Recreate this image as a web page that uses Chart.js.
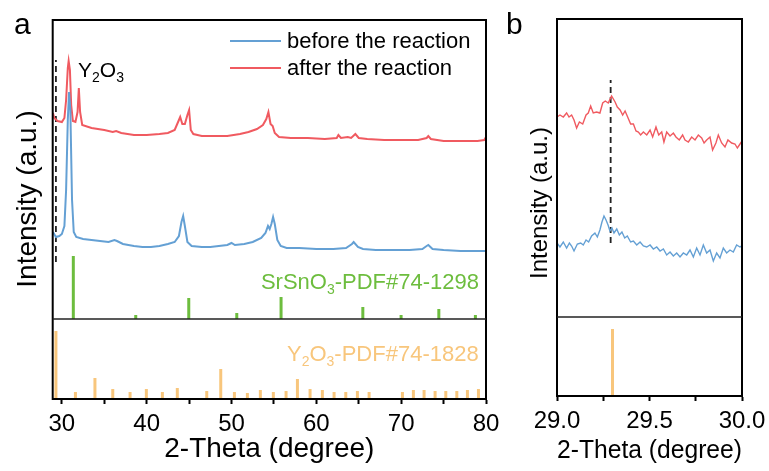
<!DOCTYPE html>
<html>
<head>
<meta charset="utf-8">
<script src="https://cdn.jsdelivr.net/npm/chart.js@4.4.1/dist/chart.umd.min.js"></script>
<style>
  body { margin: 0; background: #fff; width: 769px; height: 471px; overflow: hidden; position: relative; }
  canvas { position: absolute; top: 0; }
  #chartA { left: 0; }
  #chartB { left: 500px; }
</style>
</head>
<body>
<canvas id="chartA" width="500" height="471"></canvas>
<canvas id="chartB" width="269" height="471"></canvas>
<script>
// ---- data (2-theta in degrees, intensity in arbitrary units) ----
var seriesNames = ["before the reaction", "after the reaction"];

var beforeA = [[28.95,87],[29.3,82],[29.7,83],[30.0,85],[30.3,93],[30.5,129],[30.7,199],[30.85,227],[31.0,209],[31.2,119],[31.4,87],[31.7,82],
  [32.5,80],[33.5,79],[34.5,78],[35.5,77],[36.2,79],[36.5,78],[37.2,75],[38.5,73],[39.5,72],[40.5,72],[41.5,73],[42.5,75],[43.3,77],[43.8,83],
  [44.1,97],[44.3,103],[44.5,93],[44.8,77],[45.3,73],[46.5,72],[47.5,72],[48.5,73],[49.5,74],[50.0,76],[50.4,74],[51.5,75],[52.5,77],[53.5,81],
  [54.0,86],[54.3,93],[54.5,90],[54.7,95],[54.9,102],[55.1,95],[55.4,79],[55.8,73],[56.5,71],[58,71],[60,70],[62,70],[63.5,71],[64.2,75],
  [64.4,77],[64.9,72],[65.5,70],[67,69],[69,69],[71,69],[72.5,70],[73.0,73],[73.2,74],[73.7,70],[75,69],[77,68],[79,68],[80,68]];

var afterA = [[28.95,206],[29.1,201],[29.5,198],[30.0,197],[30.3,201],[30.5,219],[30.7,251],[30.8,258],[30.95,249],[31.1,214],[31.3,198],
  [31.6,197],[31.85,207],[32.0,231],[32.15,207],[32.4,194],[33.5,191],[35.0,189],[36.0,187],[36.4,188],[37.0,186],[38.5,184],[40.0,184],
  [41.5,185],[42.5,186],[43.3,189],[43.8,199],[43.95,202],[44.2,195],[44.5,195],[44.8,204],[45.0,209],[45.2,189],[45.5,185],[46.5,183],
  [48.0,183],[49.5,183],[51.0,185],[52.0,187],[53.0,190],[53.7,194],[54.1,200],[54.35,207],[54.6,195],[54.85,193],[55.1,186],[55.6,182],
  [57,181],[59,181],[61,180],[62.4,181],[62.6,184],[62.9,181],[63.7,182],[64.1,181],[64.6,185],[65.0,181],[66,180],[68,179],[70,179],
  [72,179],[73.0,181],[73.2,183],[73.5,180],[75,178],[77,178],[79,178],[79.8,179],[80,182]];

var srsnoPos = [31.35, 38.71, 44.96, 50.62, 55.84, 65.48, 69.99, 74.44, 78.75];
var srsnoInt = [63, 4, 21, 6, 22, 12, 4, 10, 4];

var y2o3Pos = [29.3, 31.6, 33.9, 36.0, 38.04, 39.96, 41.85, 43.61, 47.08, 48.73, 50.34, 51.87, 53.4, 54.93, 56.43,
  57.77, 59.26, 60.71, 62.09, 63.47, 64.84, 66.22, 70.15, 71.44, 72.7, 74.0, 75.26, 76.56, 77.81, 79.11];
var y2o3Int = [68, 7, 21, 10, 7, 10, 7, 11, 8, 30, 7, 6, 9, 7, 8, 20, 10, 9, 7, 7, 8, 7, 7, 9, 9, 8, 8, 8, 9, 10];

var beforeB = [[29.0,74],[29.016,70],[29.034,75],[29.052,69],[29.067,74],[29.079,71],[29.092,66],[29.11,73],[29.128,74],[29.142,72],
  [29.157,77],[29.171,75],[29.187,81],[29.205,84],[29.218,80],[29.232,87],[29.243,95],[29.254,101],[29.265,97],[29.276,92],[29.286,86],
  [29.297,89],[29.308,84],[29.323,88],[29.337,82],[29.351,85],[29.366,79],[29.38,81],[29.398,75],[29.413,76],[29.431,72],[29.449,75],
  [29.467,71],[29.485,70],[29.503,72],[29.521,68],[29.539,70],[29.557,66],[29.575,68],[29.593,62],[29.611,65],[29.629,61],[29.647,64],
  [29.665,60],[29.683,64],[29.701,62],[29.719,67],[29.737,60],[29.755,69],[29.773,62],[29.791,72],[29.809,64],[29.827,67],[29.845,56],
  [29.863,64],[29.881,59],[29.899,69],[29.917,64],[29.935,67],[29.953,65],[29.971,72],[29.989,70],[30.0,71]];

var afterB = [[29.0,200],[29.016,202],[29.034,200],[29.052,204],[29.065,200],[29.079,202],[29.092,197],[29.106,189],[29.121,195],
  [29.139,193],[29.157,202],[29.169,204],[29.182,211],[29.196,204],[29.214,205],[29.232,204],[29.247,214],[29.261,216],[29.277,214],
  [29.295,221],[29.314,215],[29.326,210],[29.341,207],[29.355,202],[29.368,206],[29.382,200],[29.398,193],[29.413,193],[29.427,186],
  [29.44,185],[29.452,182],[29.467,185],[29.485,182],[29.503,187],[29.517,180],[29.535,190],[29.55,182],[29.566,185],[29.578,175],
  [29.593,185],[29.611,181],[29.629,184],[29.643,180],[29.661,177],[29.679,182],[29.692,177],[29.71,175],[29.728,180],[29.746,177],
  [29.764,182],[29.782,179],[29.795,174],[29.809,177],[29.827,180],[29.841,167],[29.859,174],[29.872,182],[29.89,174],[29.908,170],
  [29.924,177],[29.944,174],[29.962,173],[29.975,169],[29.993,174],[30.0,176]];

var y2o3PosB = [29.3];
var y2o3IntB = [67];

var markerA = [29.3, 57, 259];   // x, from, to
var markerB = [29.29, 74, 237];

var tickPosA = [30, 35, 40, 45, 50, 55, 60, 65, 70, 75, 80];
var tickLabA = [30, 40, 50, 60, 70, 80];
var tickPosB = [29, 29.25, 29.5, 29.75, 30];
var tickLabB = [29, 29.5, 30];

// ---- style ----
var blue = "#64a0d4", red = "#f05a60", green = "#6dbd3e", orange = "#f8c67c";
var FONT = "'Liberation Sans', Arial, sans-serif";
Chart.defaults.font.family = FONT;
Chart.defaults.color = "#000";

function pts(arr) { return arr.map(function (p) { return { x: p[0], y: p[1] }; }); }
function sticks(pos, h) {
  var out = [];
  for (var i = 0; i < pos.length; i++) {
    out.push({ x: pos[i], y: 0 }, { x: pos[i], y: h[i] }, { x: pos[i], y: null });
  }
  return out;
}
function curve(label, arr, color, w) {
  return { label: label, data: pts(arr), borderColor: color, borderWidth: w, pointRadius: 0, tension: 0, yAxisID: "y" };
}
function stickSet(pos, h, color, axis) {
  return { data: sticks(pos, h), borderColor: color, borderWidth: 3, pointRadius: 0, yAxisID: axis, borderCapStyle: "butt" };
}
function dashSet(m) {
  return { data: [{ x: m[0], y: m[1] }, { x: m[0], y: m[2] }], borderColor: "#222", borderWidth: 1.8,
           borderDash: [6, 4], pointRadius: 0, yAxisID: "y" };
}

// text with subscripts: parts = [[text, isSub], ...]
function rich(ctx, parts, x, y, size, color, alignRight) {
  var subSize = Math.round(size * 0.65);
  var w = 0;
  parts.forEach(function (p) {
    ctx.font = (p[1] ? subSize : size) + "px " + FONT;
    w += ctx.measureText(p[0]).width;
  });
  var cx = alignRight ? x - w : x;
  ctx.fillStyle = color;
  ctx.textBaseline = "alphabetic";
  ctx.textAlign = "left";
  parts.forEach(function (p) {
    ctx.font = (p[1] ? subSize : size) + "px " + FONT;
    ctx.fillText(p[0], cx, p[1] ? y + size * 0.22 : y);
    cx += ctx.measureText(p[0]).width;
  });
}
function vTitle(ctx, text, x, y, size) {
  ctx.save();
  ctx.translate(x, y);
  ctx.rotate(-Math.PI / 2);
  ctx.font = size + "px " + FONT;
  ctx.fillStyle = "#000";
  ctx.textAlign = "center";
  ctx.textBaseline = "middle";
  ctx.fillText(text, 0, 0);
  ctx.restore();
}

var framePlugin = {
  id: "frame",
  afterDatasetsDraw: function (chart) {
    var ctx = chart.ctx, a = chart.chartArea;
    ctx.save();
    ctx.strokeStyle = "#000";
    ctx.lineWidth = 2;
    ctx.strokeRect(a.left, a.top, a.right - a.left, a.bottom - a.top);
    var yd = chart.scales.yRef.top;
    ctx.strokeStyle = "#222";
    ctx.lineWidth = 1.5;
    ctx.beginPath();
    ctx.moveTo(a.left, yd);
    ctx.lineTo(a.right, yd);
    ctx.stroke();
    ctx.restore();
  }
};

function xAxis(min, max, tpos, tlab, fmt, h, titleSize) {
  return {
    type: "linear", min: min, max: max,
    afterBuildTicks: function (s) { s.ticks = tpos.map(function (v) { return { value: v }; }); },
    afterFit: function (s) { s.height = h; s.paddingLeft = 0; s.paddingRight = 0; },
    ticks: {
      autoSkip: false, maxRotation: 0, padding: 6, font: { size: 24 }, color: "#000",
      callback: function (v) { return tlab.indexOf(v) >= 0 ? fmt(v) : ""; }
    },
    grid: { drawOnChartArea: false, drawTicks: true, tickLength: 5, tickColor: "#000", tickWidth: 2 },
    border: { display: true, color: "#000", width: 2 },
    title: { display: true, text: "2-Theta (degree)", font: { size: titleSize }, color: "#000", padding: { top: 0, bottom: 5 } }
  };
}
function yAxis(max, weight, w) {
  return {
    type: "linear", position: "left", stack: "s", stackWeight: weight, min: 0, max: max,
    ticks: { display: false }, grid: { display: false }, border: { display: false },
    afterFit: function (s) { s.width = w; s.paddingTop = 0; s.paddingBottom = 0; }
  };
}

// ---- panel a ----
new Chart(document.getElementById("chartA"), {
  type: "line",
  data: {
    datasets: [
      curve(seriesNames[0], beforeA, blue, 2),
      curve(seriesNames[1], afterA, red, 2),
      stickSet(srsnoPos, srsnoInt, green, "y"),
      stickSet(y2o3Pos, y2o3Int, orange, "yRef"),
      dashSet(markerA)
    ]
  },
  options: {
    responsive: false,
    animation: false,
    layout: { padding: { top: 20, right: 14, left: 0, bottom: 0 } },
    scales: {
      x: xAxis(28.92, 80, tickPosA, tickLabA, function (v) { return String(v); }, 72, 28),
      yRef: yAxis(80, 80, 52.7),
      y: yAxis(299, 299, 52.7)
    },
    plugins: { legend: { display: false }, tooltip: { enabled: false } }
  },
  plugins: [framePlugin, {
    id: "textA",
    afterDraw: function (chart) {
      var ctx = chart.ctx;
      ctx.save();
      ctx.font = "30px " + FONT; ctx.fillStyle = "#000"; ctx.textAlign = "left"; ctx.textBaseline = "alphabetic";
      ctx.fillText("a", 14, 34);
      vTitle(ctx, "Intensity (a.u.)", 28, 199, 28);
      // legend
      var rows = [[seriesNames[0], blue, 41], [seriesNames[1], red, 68]];
      rows.forEach(function (r) {
        ctx.strokeStyle = r[1]; ctx.lineWidth = 2;
        ctx.beginPath(); ctx.moveTo(230, r[2]); ctx.lineTo(281, r[2]); ctx.stroke();
        ctx.font = "22px " + FONT; ctx.fillStyle = "#000"; ctx.textAlign = "left"; ctx.textBaseline = "middle";
        ctx.fillText(r[0], 287, r[2] + 1);
      });
      rich(ctx, [["Y", 0], ["2", 1], ["O", 0], ["3", 1]], 78, 77, 21, "#000", false);
      rich(ctx, [["SrSnO", 0], ["3", 1], ["-PDF#74-1298", 0]], 479, 289, 22, green, true);
      rich(ctx, [["Y", 0], ["2", 1], ["O", 0], ["3", 1], ["-PDF#74-1828", 0]], 287, 361, 22, orange, false);
      ctx.restore();
    }
  }]
});

// ---- panel b ----
new Chart(document.getElementById("chartB"), {
  type: "line",
  data: {
    datasets: [
      curve(seriesNames[0], beforeB, blue, 1.4),
      curve(seriesNames[1], afterB, red, 1.4),
      stickSet(y2o3PosB, y2o3IntB, orange, "yRef"),
      dashSet(markerB)
    ]
  },
  options: {
    responsive: false,
    animation: false,
    layout: { padding: { top: 19, right: 27, left: 0, bottom: 0 } },
    scales: {
      x: xAxis(29, 30, tickPosB, tickLabB, function (v) { return v.toFixed(1); }, 75, 26),
      yRef: yAxis(79, 79, 57),
      y: yAxis(298, 298, 57)
    },
    plugins: { legend: { display: false }, tooltip: { enabled: false } }
  },
  plugins: [framePlugin, {
    id: "textB",
    afterDraw: function (chart) {
      var ctx = chart.ctx;
      ctx.save();
      ctx.font = "30px " + FONT; ctx.fillStyle = "#000"; ctx.textAlign = "left"; ctx.textBaseline = "alphabetic";
      ctx.fillText("b", 6, 34);
      vTitle(ctx, "Intensity (a.u.)", 40, 203, 24);
      ctx.restore();
    }
  }]
});
</script>
</body>
</html>
